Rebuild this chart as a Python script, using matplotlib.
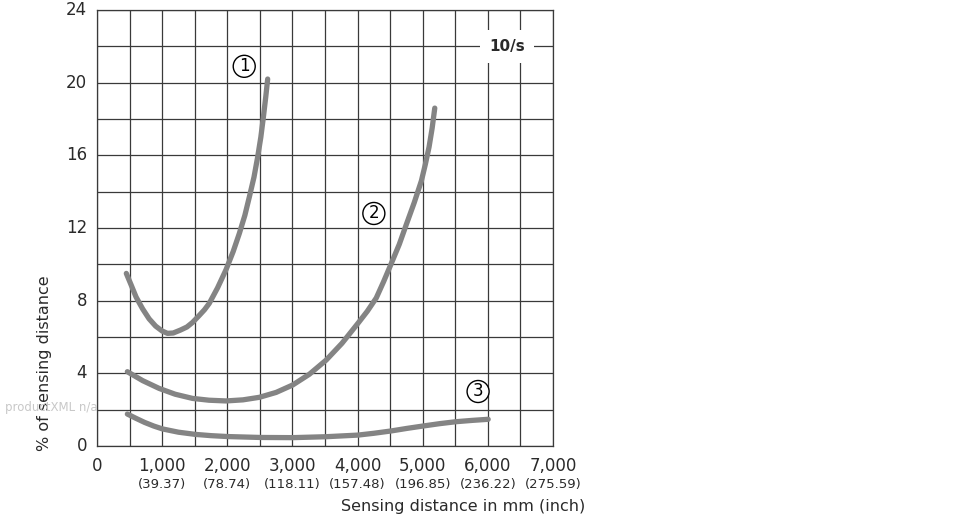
import numpy as np
import matplotlib
matplotlib.use('Agg')
import matplotlib.pyplot as plt

# ─── data ─────────────────────────────────────────
c1_x = [450, 520, 600, 700, 800, 900, 1000, 1082, 1170, 1280, 1380, 1466, 1560, 1650, 1723, 1850, 1980, 2090, 2185, 2270, 2338, 2410, 2466, 2515, 2554, 2590, 2620]
c1_y = [9.5, 8.9, 8.2, 7.55, 7.0, 6.6, 6.33, 6.2, 6.22, 6.38, 6.55, 6.8, 7.15, 7.5, 7.85, 8.7, 9.7, 10.7, 11.7, 12.7, 13.7, 14.8, 15.9, 17.0, 18.1, 19.2, 20.2]

c2_x = [466, 700, 954, 1200, 1466, 1720, 1980, 2240, 2492, 2750, 3005, 3260, 3518, 3760, 4005, 4150, 4287, 4400, 4518, 4640, 4749, 4870, 4980, 5040, 5097, 5145, 5185]
c2_y = [4.09, 3.6, 3.17, 2.85, 2.62, 2.52, 2.48, 2.54, 2.68, 2.95, 3.36, 3.95, 4.73, 5.65, 6.75, 7.42, 8.15, 9.05, 10.05, 11.1, 12.2, 13.4, 14.6, 15.5, 16.45, 17.5, 18.6]

c3_x = [466, 600, 730, 870, 1005, 1250, 1508, 1750, 2005, 2503, 3005, 3508, 4005, 4250, 4518, 4760, 5005, 5260, 5518, 5760, 6005]
c3_y = [1.76, 1.52, 1.3, 1.1, 0.94, 0.76, 0.64, 0.57, 0.52, 0.47, 0.46, 0.51, 0.6, 0.7, 0.83, 0.97, 1.1, 1.23, 1.34, 1.41, 1.47]

mm_ticks   = [0, 1000, 2000, 3000, 4000, 5000, 6000, 7000]
mm_labels  = ['0', '1,000', '2,000', '3,000', '4,000', '5,000', '6,000', '7,000']
inch_labels = ['', '(39.37)', '(78.74)', '(118.11)', '(157.48)', '(196.85)', '(236.22)', '(275.59)']
y_ticks    = [0, 4, 8, 12, 16, 20, 24]

curve_tags = ['1', '2', '3']
tag_x      = [2260, 4250, 5850]
tag_y      = [20.9, 12.8, 3.0]
# ──────────────────────────────────────────────────

GRID  = '#3a3a3a'
CURVE = '#848484'
TEXT  = '#2a2a2a'

plt.rcParams['font.family'] = ['DejaVu Sans']

fig = plt.figure(figsize=(9.7, 5.2), dpi=100, facecolor='white')
ax = fig.add_axes([97/970, 1 - 446/520, (553 - 97)/970, (446 - 10)/520])

ax.set_xlim(0, 7000)
ax.set_ylim(0, 24)
ax.set_xticks(np.arange(0, 7001, 500))
ax.set_yticks(np.arange(0, 25, 2))
ax.grid(True, color=GRID, linewidth=0.9)
ax.tick_params(length=0, labelbottom=False, labelleft=False)
for s in ax.spines.values():
    s.set_edgecolor(GRID)
    s.set_linewidth(0.9)

for xs, ys in [(c1_x, c1_y), (c2_x, c2_y), (c3_x, c3_y)]:
    ax.plot(xs, ys, color=CURVE, linewidth=3.8, solid_capstyle='round',
            solid_joinstyle='round', zorder=3)

# tick labels drawn as text so the inch line can be smaller
xt = ax.get_xaxis_transform()
for v, mm, inch in zip(mm_ticks, mm_labels, inch_labels):
    ax.text(v, -0.045, mm, transform=xt, ha='center', va='center',
            fontsize=12, color=TEXT, clip_on=False)
    if inch:
        ax.text(v, -0.089, inch, transform=xt, ha='center', va='center',
                fontsize=9.5, color=TEXT, clip_on=False)

yt = ax.get_yaxis_transform()
for v in y_ticks:
    ax.text(-0.022, v, str(v), transform=yt, ha='right', va='center',
            fontsize=12, color=TEXT, clip_on=False)

fig.text(585/970, 1 - 507/520, 'Sensing distance in mm (inch)', ha='right',
         va='center', fontsize=11.5, color=TEXT)
fig.text(45/970, 1 - 363/520, '% of sensing distance', rotation=90,
         ha='center', va='center', fontsize=11.5, color=TEXT)

for t, x, y in zip(curve_tags, tag_x, tag_y):
    ax.text(x, y, t, ha='center', va='center', fontsize=12, color='black',
            zorder=5, bbox=dict(boxstyle='circle,pad=0.12', fc='white',
                                ec='black', lw=1.0))

ax.text(6290, 22, '10/s', ha='center', va='center', fontsize=11,
        fontweight='bold', color=TEXT, zorder=5,
        bbox=dict(boxstyle='square,pad=0.6', fc='white', ec='none'))

fig.text(5/970, 1 - 408/520, 'productXML n/a', ha='left', va='center',
         fontsize=8.5, color='#c8c8c8')

plt.savefig('out.png', dpi=100, facecolor='white')
